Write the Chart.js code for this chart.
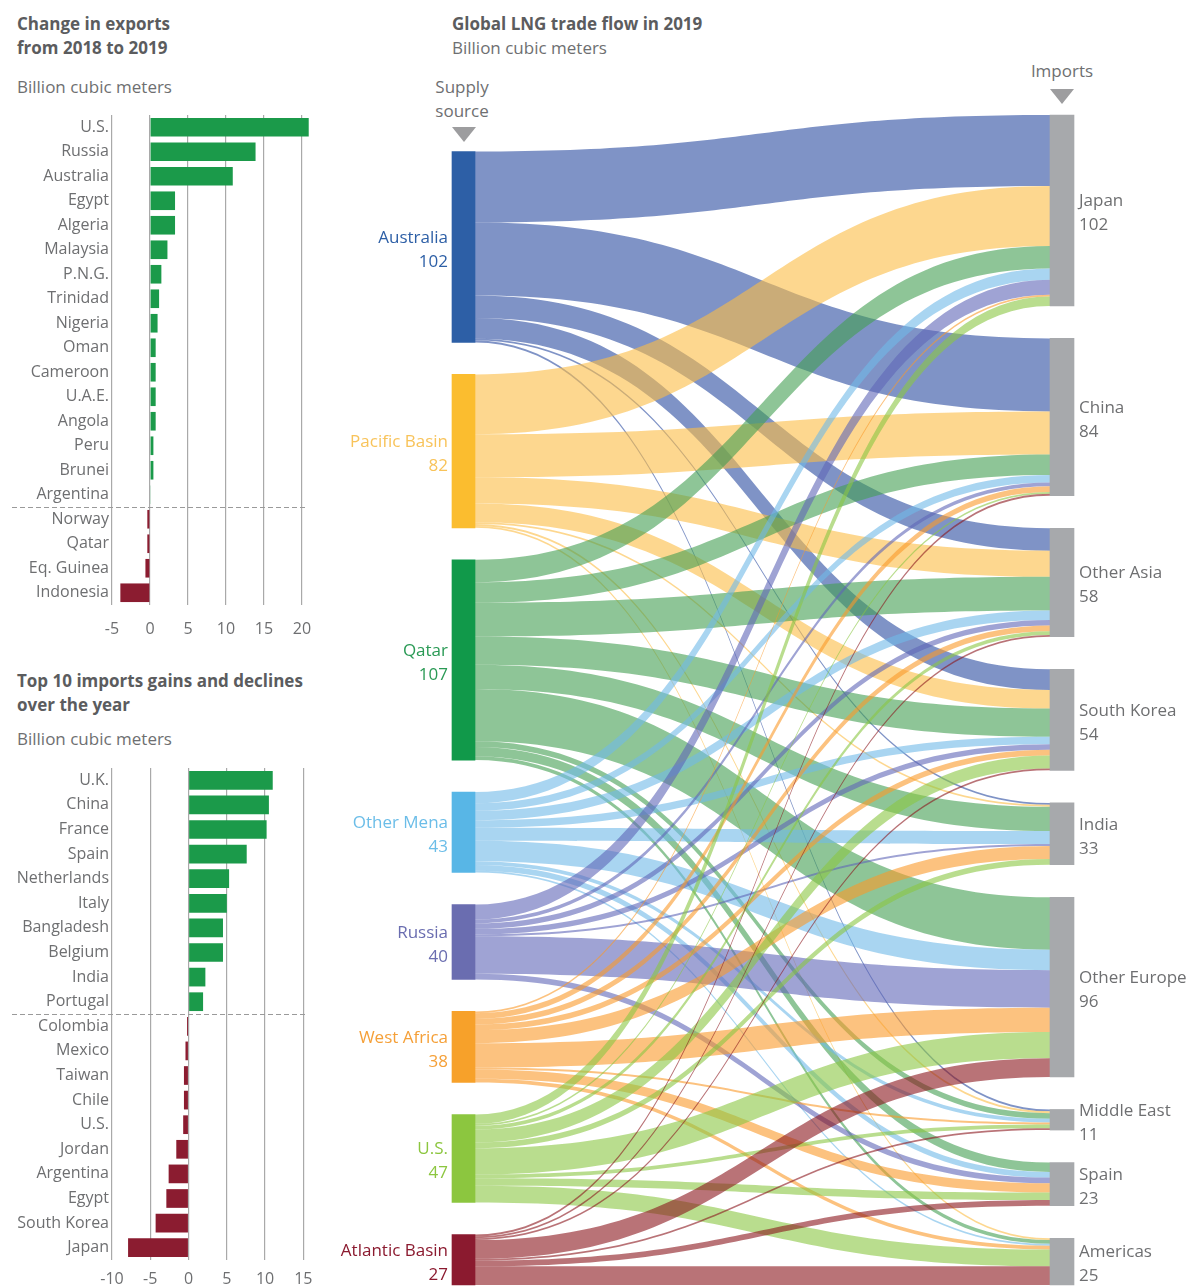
<!DOCTYPE html>
<html>
<head>
<meta charset="utf-8">
<script src="https://cdn.jsdelivr.net/npm/chart.js@4.4.1/dist/chart.umd.min.js"></script>
<style>
  body { margin: 0; background: #fff; font-family: "Open Sans", sans-serif; }
  #page { position: relative; width: 1189px; height: 1288px; overflow: hidden; }
  .title { position: absolute; font-weight: 700; font-size: 17px; line-height: 24px; color: #5b5c5e; white-space: nowrap; }
  .unit { position: absolute; font-size: 17px; line-height: 24px; color: #6e6f71; white-space: nowrap; }
  .head { position: absolute; font-size: 17px; line-height: 24px; color: #6e6f71; text-align: center; width: 120px; }
  .arrow { position: absolute; width: 0; height: 0; border-left: 12px solid transparent; border-right: 12px solid transparent; border-top: 15px solid #9d9d9f; }
  canvas { position: absolute; }
</style>
</head>
<body>
<div id="page">
  <div class="title" style="left:17px; top:12px">Change in exports<br>from 2018 to 2019</div>
  <div class="unit" style="left:17px; top:75px">Billion cubic meters</div>
  <div class="title" style="left:17px; top:669px">Top 10 imports gains and declines<br>over the year</div>
  <div class="unit" style="left:17px; top:727px">Billion cubic meters</div>

  <div class="title" style="left:452px; top:12px">Global LNG trade flow in 2019</div>
  <div class="unit" style="left:452px; top:36px">Billion cubic meters</div>
  <div class="head" style="left:402px; top:75px">Supply<br>source</div>
  <div class="arrow" style="left:452px; top:127px"></div>
  <div class="head" style="left:1002px; top:59px">Imports</div>
  <div class="arrow" style="left:1050px; top:89px"></div>

  <canvas id="exportsChart" width="330" height="545" style="left:0; top:100px"></canvas>
  <canvas id="importsChart" width="330" height="533" style="left:0; top:755px"></canvas>
  <canvas id="flowChart" width="859" height="1288" style="left:330px; top:0"></canvas>
</div>

<script>
// Export change 2018 -> 2019, bcm
const exportCountries = ['U.S.', 'Russia', 'Australia', 'Egypt', 'Algeria', 'Malaysia', 'P.N.G.', 'Trinidad',
  'Nigeria', 'Oman', 'Cameroon', 'U.A.E.', 'Angola', 'Peru', 'Brunei', 'Argentina',
  'Norway', 'Qatar', 'Eq. Guinea', 'Indonesia'];
const exportChange = [20.9, 13.9, 10.9, 3.3, 3.3, 2.3, 1.5, 1.2,
  1.0, 0.75, 0.75, 0.75, 0.75, 0.45, 0.45, 0.1,
  -0.35, -0.35, -0.6, -3.9];
const exportTicks = [-5, 0, 5, 10, 15, 20];

// Top 10 import gains and declines, bcm
const importCountries = ['U.K.', 'China', 'France', 'Spain', 'Netherlands', 'Italy', 'Bangladesh', 'Belgium',
  'India', 'Portugal', 'Colombia', 'Mexico', 'Taiwan', 'Chile', 'U.S.', 'Jordan',
  'Argentina', 'Egypt', 'South Korea', 'Japan'];
const importChange = [11.0, 10.5, 10.2, 7.6, 5.3, 5.0, 4.5, 4.5,
  2.2, 1.9, -0.2, -0.4, -0.6, -0.6, -0.7, -1.6,
  -2.6, -2.9, -4.3, -7.9];
const importTicks = [-10, -5, 0, 5, 10, 15];

// LNG trade flow 2019, bcm
const sources = ['Australia', 'Pacific Basin', 'Qatar', 'Other Mena', 'Russia', 'West Africa', 'U.S.', 'Atlantic Basin'];
const sourceTotals = [102, 82, 107, 43, 40, 38, 47, 27];
const destinations = ['Japan', 'China', 'Other Asia', 'South Korea', 'India', 'Other Europe', 'Middle East', 'Spain', 'Americas'];
const destinationTotals = [102, 84, 58, 54, 33, 96, 11, 23, 25];

// volume from each supply source, in destination order
const fromAustralia = [38, 39, 12, 11, 1, 0, 1, 0, 0];
const fromPacificBasin = [32, 23, 14, 10, 1, 0, 1, 0, 1];
const fromQatar = [12, 11, 18, 15, 13, 28, 3, 5, 2];
const fromOtherMena = [6, 4, 5, 4, 7, 11, 2, 3, 1];
const fromRussia = [8, 2, 3, 3, 1, 20, 0, 3, 0];
const fromWestAfrica = [1, 3, 3, 3, 7, 13, 1, 5, 2];
const fromUS = [5, 1, 2, 7, 3, 14, 2, 4, 9];
const fromAtlanticBasin = [0, 1, 1, 1, 0, 10, 1, 3, 10];

const flows = [fromAustralia, fromPacificBasin, fromQatar, fromOtherMena, fromRussia, fromWestAfrica, fromUS, fromAtlanticBasin];

const GREEN = '#1b9a4a';
const RED = '#8b1c30';
const TEXT = '#6e6f71';
const GRID = '#a9a9a9';

const nodeColors = ['#2d5fa6', '#fbbd2f', '#11994a', '#58b6e6', '#6a6db0', '#f7a12a', '#8cc63f', '#8b1a2f'];
const labelColors = ['#2d5fa6', '#f8c35a', '#2a9a55', '#6bbde8', '#6a6db0', '#f5a038', '#8cc63f', '#8b1a2f'];
const linkColors = ['rgba(42,75,160,0.6)', 'rgba(251,188,68,0.6)', 'rgba(67,158,82,0.6)', 'rgba(112,185,232,0.6)',
  'rgba(95,102,183,0.6)', 'rgba(250,153,42,0.6)', 'rgba(138,198,67,0.6)', 'rgba(138,22,28,0.6)'];
const importNodeColor = '#a7a9ac';

Chart.defaults.font.family = '"Open Sans", sans-serif';
Chart.defaults.color = TEXT;

// dashed rule between gainers and decliners
const splitLine = {
  id: 'splitLine',
  afterDatasetsDraw(chart, args, opts) {
    const y = chart.scales.y;
    const py = Math.round((y.getPixelForValue(opts.after) + y.getPixelForValue(opts.after + 1)) / 2) + 0.5;
    const ctx = chart.ctx;
    ctx.save();
    ctx.strokeStyle = '#9a9a9a';
    ctx.lineWidth = 1;
    ctx.setLineDash([5, 3]);
    ctx.beginPath();
    ctx.moveTo(12, py);
    ctx.lineTo(chart.chartArea.right - 3, py);
    ctx.stroke();
    ctx.restore();
  }
};

function changeChart(id, labels, values, ticks, xMin, xMax, padTop, axisHeight, tickPad, splitAfter) {
  return new Chart(document.getElementById(id), {
    type: 'bar',
    data: {
      labels: labels,
      datasets: [{
        data: values,
        backgroundColor: values.map(v => v >= 0 ? GREEN : RED),
        barPercentage: 0.76,
        categoryPercentage: 1
      }]
    },
    options: {
      indexAxis: 'y',
      responsive: false,
      animation: false,
      events: [],
      layout: { padding: { top: padTop, right: 19, bottom: 0, left: 0 } },
      plugins: {
        legend: { display: false },
        tooltip: { enabled: false },
        splitLine: { after: splitAfter }
      },
      scales: {
        x: {
          min: xMin,
          max: xMax,
          afterBuildTicks: s => { s.ticks = ticks.map(v => ({ value: v })); },
          afterFit: s => { s.height = axisHeight; },
          grid: { color: GRID, lineWidth: 1.2, drawTicks: false },
          border: { display: false },
          ticks: { padding: tickPad, font: { size: 16 }, color: TEXT }
        },
        y: {
          afterFit: s => { s.width = 112; },
          grid: { display: false },
          border: { display: false },
          ticks: { padding: -5, font: { size: 16 }, color: TEXT, autoSkip: false }
        }
      }
    },
    plugins: [splitLine]
  });
}

changeChart('exportsChart', exportCountries, exportChange, exportTicks, -5, 21.2, 15, 40, 15, 15);
changeChart('importsChart', importCountries, importChange, importTicks, -10, 16, 13, 28, 10, 9);

// Sankey layout in value units, y runs downward; both columns end at the bottom
const DEST_GAP = 17.4;
const SOURCE_GAP = 17.1;
let cursor = 0;
const destRanges = destinationTotals.map(t => { const r = [cursor, cursor + t]; cursor += t + DEST_GAP; return r; });
const flowMax = destRanges[destRanges.length - 1][1];
cursor = flowMax - sourceTotals.reduce((a, b) => a + b, 0) - SOURCE_GAP * (sourceTotals.length - 1);
const sourceRanges = sourceTotals.map(t => { const r = [cursor, cursor + t]; cursor += t + SOURCE_GAP; return r; });

// where each ribbon leaves its source and enters its destination
const linkStart = flows.map((row, i) => {
  let c = sourceRanges[i][0];
  return row.map(v => { const s = c; c += v; return s; });
});
const linkEnd = flows.map(row => row.map(() => 0));
destinations.forEach((d, j) => {
  let c = destRanges[j][0];
  flows.forEach((row, i) => { linkEnd[i][j] = c; c += row[j]; });
});

const nodeSets = [];
sources.forEach((s, i) => nodeSets.push({
  label: s, data: [sourceRanges[i], null], backgroundColor: nodeColors[i],
  grouped: false, barThickness: 23, clip: false
}));
destinations.forEach((d, j) => nodeSets.push({
  label: d, data: [null, destRanges[j]], backgroundColor: importNodeColor,
  grouped: false, barThickness: 24, clip: false
}));

const sankeyLinks = {
  id: 'sankeyLinks',
  beforeDatasetsDraw(chart) {
    const ctx = chart.ctx;
    const y = chart.scales.y;
    ctx.save();
    flows.forEach((row, i) => {
      const sb = chart.getDatasetMeta(i).data[0];
      const x0 = sb.x + sb.width / 2;
      row.forEach((v, j) => {
        if (!v) return;
        const db = chart.getDatasetMeta(sources.length + j).data[1];
        const x1 = db.x - db.width / 2;
        const a0 = y.getPixelForValue(linkStart[i][j]);
        const a1 = y.getPixelForValue(linkStart[i][j] + v);
        const b0 = y.getPixelForValue(linkEnd[i][j]);
        const b1 = y.getPixelForValue(linkEnd[i][j] + v);
        const xm = (x0 + x1) / 2;
        ctx.beginPath();
        ctx.moveTo(x0, a0);
        ctx.bezierCurveTo(xm, a0, xm, b0, x1, b0);
        ctx.lineTo(x1, b1);
        ctx.bezierCurveTo(xm, b1, xm, a1, x0, a1);
        ctx.closePath();
        ctx.fillStyle = linkColors[i];
        ctx.fill();
      });
    });
    ctx.restore();
  },
  afterDatasetsDraw(chart) {
    const ctx = chart.ctx;
    const y = chart.scales.y;
    ctx.save();
    ctx.font = '17px "Open Sans", sans-serif';
    ctx.textBaseline = 'middle';
    ctx.textAlign = 'right';
    sources.forEach((s, i) => {
      const bar = chart.getDatasetMeta(i).data[0];
      const cy = (y.getPixelForValue(sourceRanges[i][0]) + y.getPixelForValue(sourceRanges[i][1])) / 2;
      const x = bar.x - bar.width / 2 - 4;
      ctx.fillStyle = labelColors[i];
      ctx.fillText(s, x, cy - 9);
      ctx.fillText(String(sourceTotals[i]), x, cy + 15);
    });
    ctx.textAlign = 'left';
    ctx.fillStyle = TEXT;
    destinations.forEach((d, j) => {
      const bar = chart.getDatasetMeta(sources.length + j).data[1];
      const cy = (y.getPixelForValue(destRanges[j][0]) + y.getPixelForValue(destRanges[j][1])) / 2;
      const x = bar.x + bar.width / 2 + 5;
      ctx.fillText(d, x, cy - 9);
      ctx.fillText(String(destinationTotals[j]), x, cy + 15);
    });
    ctx.restore();
  }
};

new Chart(document.getElementById('flowChart'), {
  type: 'bar',
  data: { labels: ['Supply source', 'Imports'], datasets: nodeSets },
  options: {
    responsive: false,
    animation: false,
    events: [],
    layout: { padding: { top: 115, bottom: 3, left: 133.5, right: 127 } },
    plugins: { legend: { display: false }, tooltip: { enabled: false } },
    scales: {
      x: { type: 'category', offset: false, display: false },
      y: { type: 'linear', reverse: true, min: 0, max: flowMax, display: false }
    }
  },
  plugins: [sankeyLinks]
});
</script>
</body>
</html>
